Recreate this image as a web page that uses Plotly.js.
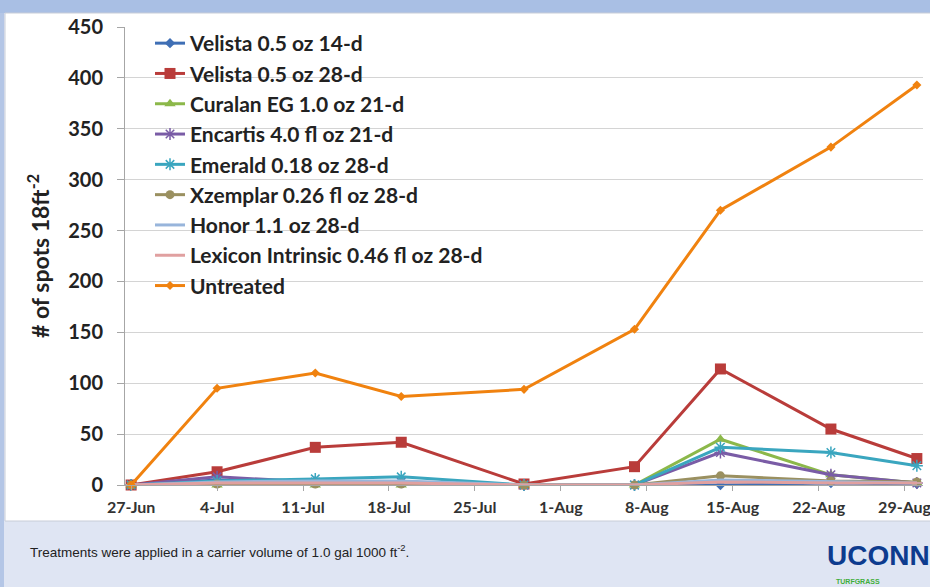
<!DOCTYPE html>
<html>
<head>
<meta charset="utf-8">
<script src="https://cdn.plot.ly/plotly-3.0.1.min.js"></script>
<style>html,body{margin:0;padding:0;background:#dfe5f3;}#chart{width:930px;height:587px;}</style>
</head>
<body>
<div id="chart"></div>
<script>
// ---- data ----
const sampleDates = ['2016-06-27','2016-07-04','2016-07-12','2016-07-19','2016-07-29','2016-08-07','2016-08-14','2016-08-23','2016-08-30'];
const seriesNames = ['Velista 0.5 oz 14-d','Velista 0.5 oz 28-d','Curalan EG 1.0 oz 21-d','Encartis 4.0 fl oz 21-d','Emerald 0.18 oz 28-d','Xzemplar 0.26 fl oz 28-d','Honor 1.1 oz 28-d','Lexicon Intrinsic 0.46 fl oz 28-d','Untreated'];
const velista14 = [0, 5, 2, 2, 0, 0, 0, 2, 1];
const velista28 = [0, 13, 37, 42, 1, 18, 114, 55, 26];
const curalan   = [0, 0, 0, 0, 0, 0, 45, 10, 2];
const encartis  = [0, 8, 3, 3, 0, 0, 32, 10, 2];
const emerald   = [0, 4, 6, 8, 0, 0, 37, 32, 19];
const xzemplar  = [0, 1, 1, 1, 0, 0, 9, 4, 3];
const honor     = [0, 3, 4, 4, 0, 0, 5, 3, 2];
const lexicon   = [0, 2, 2, 2, 0, 0, 3, 2, 2];
const untreated = [0, 95, 110, 87, 94, 153, 270, 332, 393];
const yTitle = '# of spots 18ft<sup>-2</sup>';
const footnote = 'Treatments were applied in a carrier volume of 1.0 gal 1000 ft<sup>-2</sup>.';

// ---- styles ----
const seriesValues = [velista14, velista28, curalan, encartis, emerald, xzemplar, honor, lexicon, untreated];
const styles = [
  {color:'#3f6fb5', symbol:'diamond', size:8},
  {color:'#b93c3a', symbol:'square', size:11},
  {color:'#8cb84a', symbol:'triangle-up', size:10},
  {color:'#7a5ca6', symbol:'asterisk-open', size:10},
  {color:'#3aa6bf', symbol:'asterisk-open', size:10},
  {color:'#9a9060', symbol:'circle', size:9},
  {color:'#98b5db', symbol:'line-ew-open', size:8},
  {color:'#e0a0a0', symbol:'line-ew-open', size:8},
  {color:'#f0820f', symbol:'diamond', size:7}
];
const traces = seriesNames.map((name, i) => {
  const s = styles[i];
  const open = s.symbol.indexOf('open') >= 0;
  return {
    type:'scatter', mode:'lines+markers', name:name, legendgroup:'g'+i,
    x: sampleDates, y: seriesValues[i], cliponaxis:false,
    line:{color:s.color, width:3},
    marker:{symbol:s.symbol, size:s.size, color:s.color, line:{color:s.color, width: open ? 1.5 : 0}}
  };
});

// pixel helpers for decorations (plot area: x 125..923, y 27..485)
const L = 125, R = 923, T = 27, B = 485;
const px = v => (v - L) / (R - L);
const py = v => (B - v) / (B - T);

const layout = {
  width:930, height:587,
  margin:{l:L, r:930-R, t:T, b:587-B},
  paper_bgcolor:'#dfe5f3', plot_bgcolor:'#ffffff',
  font:{family:'Lato, "Open Sans", sans-serif', color:'#222'},
  showlegend:true,
  legend:{x:px(150), y:py(23), xanchor:'left', yanchor:'top', bgcolor:'rgba(0,0,0,0)',
          font:{family:'Lato, sans-serif', size:21, color:'#222', weight:'bold'},
          tracegroupgap:0, itemwidth:30},
  xaxis:{type:'date', range:['2016-06-26 12:00','2016-08-30 12:00'], tick0:'2016-06-27', dtick:7*86400000,
         tickformat:'%-d-%b', showgrid:false, showline:true, linecolor:'#a6a6a6', linewidth:1,
         ticks:'outside', ticklen:5, tickcolor:'#a6a6a6', ticklabelstandoff:3, ticklabeloverflow:'allow',
         tickfont:{family:'Lato, sans-serif', size:16, color:'#333', weight:'bold'}, zeroline:false},
  yaxis:{range:[0,450], dtick:50, showgrid:true, gridcolor:'#d4d4d4', gridwidth:1,
         showline:true, linecolor:'#a6a6a6', ticks:'outside', ticklen:7, tickcolor:'#a6a6a6',
         ticklabelstandoff:10, zeroline:false,
         tickfont:{family:'Lato, sans-serif', size:20, color:'#222', weight:'bold'},
         title:{text:yTitle, standoff:12, font:{family:'Lato, sans-serif', size:23, color:'#222', weight:'bold'}}},
  shapes:[
    {type:'rect', xref:'paper', yref:'paper', x0:px(0), x1:px(930), y0:py(0), y1:py(13), fillcolor:'#a9bfe4', line:{width:0}, layer:'below'},
    {type:'rect', xref:'paper', yref:'paper', x0:px(0), x1:px(4), y0:py(13), y1:py(587), fillcolor:'#b4c6e6', line:{width:0}, layer:'below'},
    {type:'rect', xref:'paper', yref:'paper', x0:px(5), x1:px(935), y0:py(13), y1:py(521), fillcolor:'#ffffff', line:{color:'#c8cdd8', width:1}, layer:'below'}
  ],
  annotations:[
    {xref:'paper', yref:'paper', x:px(28), y:py(551), xanchor:'left', yanchor:'middle', showarrow:false,
     text:footnote, font:{family:'"Liberation Sans", Arial, sans-serif', size:13.5, color:'#222'}},
    {xref:'paper', yref:'paper', x:px(825), y:py(555), xanchor:'left', yanchor:'middle', showarrow:false,
     text:'UCONN', font:{family:'"Liberation Sans", Arial, sans-serif', size:28, color:'#0d3b8e', weight:'bold'}},
    {xref:'paper', yref:'paper', x:px(834), y:py(581), xanchor:'left', yanchor:'middle', showarrow:false,
     text:'TURFGRASS', font:{family:'"Liberation Sans", sans-serif', size:7, color:'#3fae3a', weight:'bold'}}
  ]
};

Plotly.newPlot('chart', traces, layout, {displayModeBar:false, staticPlot:true});
</script>
</body>
</html>
